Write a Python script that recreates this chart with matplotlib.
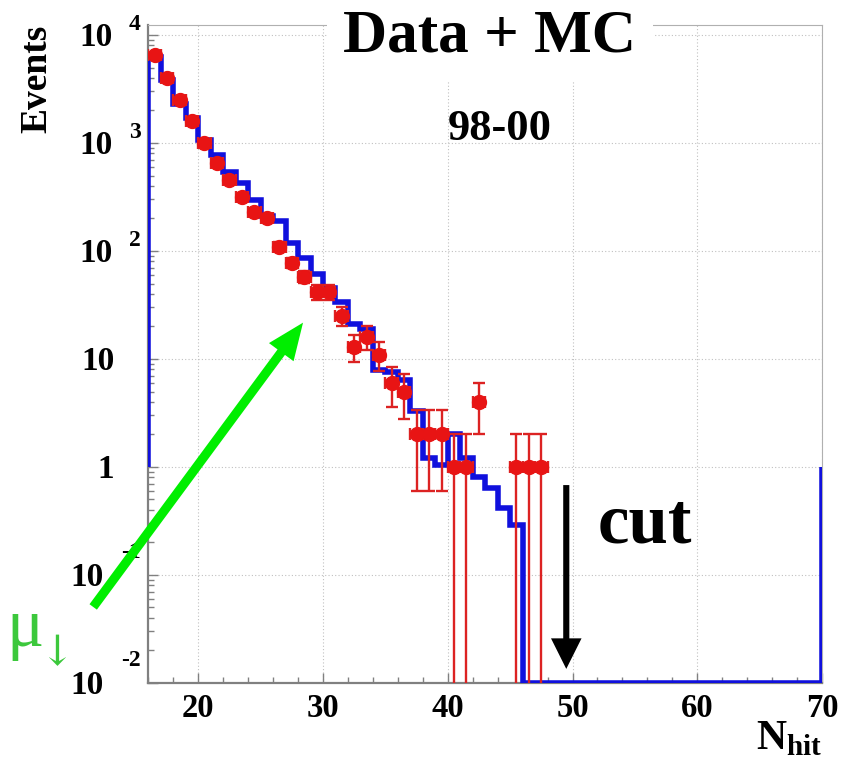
import numpy as np
import matplotlib
matplotlib.use("Agg")
import matplotlib.pyplot as plt
from matplotlib.ticker import FixedLocator, MultipleLocator, LogLocator, NullFormatter

# ---------------- data ----------------
bin_edges = np.arange(16, 71, 1)          # N_hit bins, width 1, 16..70
mc_counts = [6300, 3800, 2300, 1700, 1070, 770, 540, 425, 295, 210,
             190, 118, 87, 61, 45, 34, 21, 19, 7.9, 7.6,
             6.4, 3.3, 1.2, 1.05, 2.0, 1.2, 0.8, 0.64, 0.42, 0.29,
             0, 0, 0, 0, 0, 0, 0, 0, 0, 0, 0, 0,
             0, 0, 0, 0, 0, 0, 0, 0, 0, 0, 0, 0]

data_x = [16.5, 17.5, 18.5, 19.5, 20.5, 21.5, 22.5, 23.5, 24.5, 25.5,
          26.5, 27.5, 28.5, 29.5, 30.5, 31.5, 32.5, 33.5, 34.5, 35.5,
          36.5, 37.5, 38.5, 39.5, 40.5, 41.5, 42.5, 45.5, 46.5, 47.5]
data_y = [6500, 4000, 2500, 1600, 1000, 650, 455, 315, 230, 200,
          110, 78, 58, 42, 42, 25, 13, 16, 11, 6,
          5, 2, 2, 2, 1, 1, 4, 1, 1, 1]
data_err = [81, 63, 50, 40, 32, 25, 21, 18, 15, 14,
            10.5, 8.8, 7.6, 6.5, 6.5, 5, 3.6, 4, 3.3, 2.4,
            2.2, 1.4, 1.4, 1.4, 1, 1, 2, 1, 1, 1]
data_xerr = 0.5

x_major_ticks = [20, 30, 40, 50, 60, 70]
y_tick_vals = [1e-2, 1e-1, 1, 10, 1e2, 1e3, 1e4]
y_tick_mant = ["10", "10", "1", "10", "10", "10", "10"]
y_tick_exp = ["-2", "-1", "", "", "2", "3", "4"]

y_min, y_max = 1e-2, 1.238e4
cut_value = 49.5
hist_baseline = 1.0

# ---------------- style ----------------
plt.rcParams["font.family"] = ["Liberation Serif", "DejaVu Serif"]
plt.rcParams["font.weight"] = "bold"
plt.rcParams["mathtext.fontset"] = "custom"
plt.rcParams["mathtext.bf"] = "Liberation Serif:bold"
plt.rcParams["mathtext.rm"] = "Liberation Serif:bold"

fig = plt.figure(figsize=(8.56, 7.62), dpi=100)
ax = fig.add_axes([0.1733, 0.1037, 0.7870, 0.8635])
ax.set_yscale("log")
ax.set_xlim(bin_edges[0], bin_edges[-1])
ax.set_ylim(y_min, y_max)

# grid
ax.grid(True, which="major", color="#c0c0c0", linestyle=(0, (1, 2)), linewidth=0.8)
ax.set_axisbelow(True)

# MC histogram (zero bins drawn on the frame bottom, as ROOT does)
mc = np.asarray(mc_counts, dtype=float)
mc_draw = np.where(mc > 0, mc, y_min)
ax.stairs(mc_draw, bin_edges, baseline=hist_baseline, color="#1010dd",
          linewidth=4.0, zorder=3)

# data points
ax.errorbar(data_x, data_y, yerr=data_err, xerr=data_xerr, fmt="o",
            color="#e81414", ecolor="#dc2222", markersize=10,
            elinewidth=1.7, capsize=4.3, capthick=1.7, zorder=4)

# spines / ticks
for side in ["left", "bottom"]:
    ax.spines[side].set_color("#808080")
    ax.spines[side].set_linewidth(1.6)
for side in ["top", "right"]:
    ax.spines[side].set_color("#b0b0b0")
    ax.spines[side].set_linewidth(0.8)

ax.xaxis.set_major_locator(FixedLocator(x_major_ticks))
ax.xaxis.set_minor_locator(MultipleLocator(2))
ax.yaxis.set_major_locator(FixedLocator(y_tick_vals))
ax.yaxis.set_minor_locator(LogLocator(base=10, subs=np.arange(2, 10)))
ax.yaxis.set_minor_formatter(NullFormatter())
ax.tick_params(which="both", direction="in", colors="#808080",
               top=False, right=False)
ax.tick_params(which="major", length=7.5, width=1.0)
ax.tick_params(which="minor", length=4.0, width=1.0)
ax.tick_params(axis="x", labelsize=23.5, labelcolor="black", pad=7)
ax.tick_params(axis="y", labelleft=False)
for lab in ax.get_xticklabels():
    lab.set_fontweight("bold")

# ROOT-like y tick labels: mantissa + raised exponent
ytrans = ax.get_yaxis_transform()
for val, mant, ex in zip(y_tick_vals, y_tick_mant, y_tick_exp):
    if ex == "":
        dx_m, dy_m = -24.5, -1.5
    elif ex.startswith("-"):
        dx_m, dy_m = -32.0, -1.5
    else:
        dx_m, dy_m = -25.5, -2.0
    ax.annotate(mant, xy=(0, val), xycoords=ytrans, xytext=(dx_m, dy_m),
                textcoords="offset points", ha="right", va="center",
                fontsize=24, fontweight="bold", annotation_clip=False)
    if ex:
        dy_e = 16.5 if ex.startswith("-") else 7.5
        ax.annotate(ex, xy=(0, val), xycoords=ytrans, xytext=(-5.5, dy_e),
                    textcoords="offset points", ha="right", va="center",
                    fontsize=17, fontweight="bold", annotation_clip=False)

# axis labels
ax.set_ylabel("Events", fontsize=27, fontweight="bold", loc="top")
ax.yaxis.set_label_coords(-0.139, 1.0)
ax.set_xlabel(r"$\mathbf{N}_{\mathbf{hit}}$", fontsize=30, loc="right")
ax.xaxis.set_label_coords(1.0, -0.055)

# texts
ax.text(0.507, 0.982, "Data + MC", transform=ax.transAxes, ha="center",
        va="center", fontsize=44, fontweight="bold", zorder=6,
        bbox=dict(facecolor="white", edgecolor="none", pad=12))
ax.text(0.522, 0.842, "98-00", transform=ax.transAxes, ha="center",
        va="center", fontsize=32, fontweight="bold", zorder=6)
ax.text(0.667, 0.214, "cut", transform=ax.transAxes, ha="left",
        va="baseline", fontsize=51, fontweight="bold", zorder=6)

# cut arrow
ax.annotate("", xy=(cut_value, 0.0135), xytext=(cut_value, 0.68),
            xycoords="data",
            arrowprops=dict(arrowstyle="simple,head_length=1.1,head_width=1.1,tail_width=0.22",
                            mutation_scale=20, facecolor="black", edgecolor="none",
                            shrinkA=0, shrinkB=0),
            zorder=7, annotation_clip=False)

# green muon arrow
ax.annotate("", xy=(28.4, 21.7), xytext=(11.58, 0.0506), xycoords="data",
            arrowprops=dict(arrowstyle="simple,head_length=1.2,head_width=1.0,tail_width=0.3",
                            mutation_scale=22, facecolor="#00ee00", edgecolor="none",
                            shrinkA=0, shrinkB=0),
            zorder=8, annotation_clip=False)

fig.text(0.007, 0.152, "\u03bc", fontsize=50, color="#3cc83c",
         fontweight="normal", ha="left", va="baseline")
fig.text(0.046, 0.127, "\u2193", fontsize=30, color="#3cc83c",
         fontweight="normal", ha="left", va="baseline",
         family=["DejaVu Serif"])

fig.savefig("out.png", dpi=100)
